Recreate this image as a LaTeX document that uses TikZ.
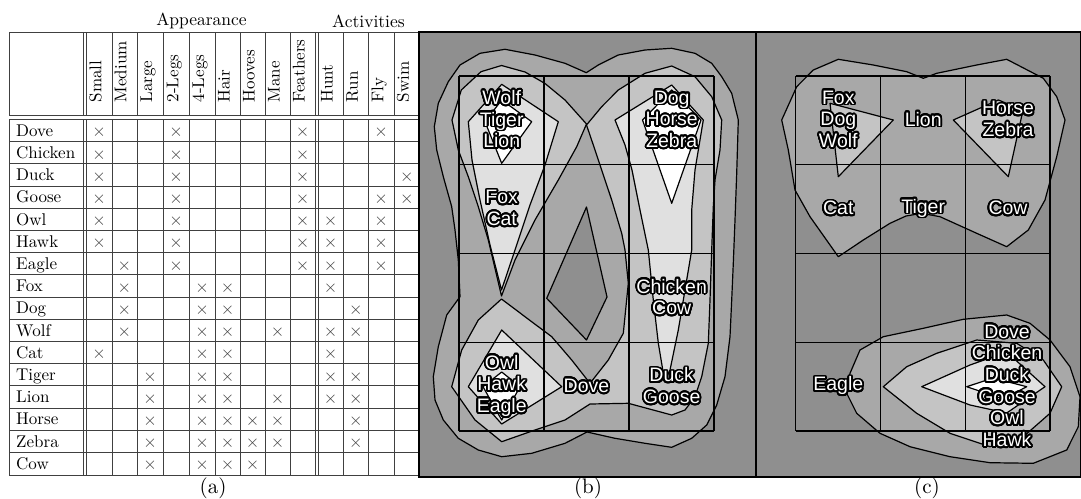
\documentclass[tikz,border=0pt]{standalone}
\usepackage{fontspec}
\usepackage{contour}
\newfontfamily\lblfont{Liberation Sans}
\newfontfamily\tabfont{lmroman10-regular}[Extension=.otf]
\contourlength{1.8pt}
\contournumber{32}
\newcommand{\cl}[1]{\contour{black}{#1}}
\definecolor{bgc}{gray}{0.56}
\definecolor{lvlone}{gray}{0.66}
\definecolor{lvltwo}{gray}{0.77}
\definecolor{lvlthree}{gray}{0.88}

\begin{document}
\begin{tikzpicture}[
    x=1pt, y=-1pt,
    tab/.style={draw=black!75, line width=0.9pt},
    cell/.style={font=\tabfont\fontsize{17}{19}\selectfont, inner sep=0pt},
    xmk/.style={font=\fontsize{16}{18}\selectfont, inner sep=0pt, text=black!75},
    frame/.style={draw=black, line width=1.4pt},
    cont/.style={draw=black, line width=1.2pt, line join=round},
    gridln/.style={draw=black, line width=1.2pt},
    lbl/.style={font=\lblfont\fontsize{19.5}{21.7}\selectfont, text=white,
      align=center, inner sep=0pt},
    sublbl/.style={font=\tabfont\fontsize{21}{23}\selectfont, inner sep=0pt}
  ]
    \useasboundingbox (0,0) rectangle (1081,498);

    % Table (a): header block and body
    \node[cell, font=\tabfont\fontsize{17.5}{19}\selectfont] (app) at (201.5,21) {Appearance};
    \node[cell, font=\tabfont\fontsize{17.5}{19}\selectfont] (act) at (368.5,21) {Activities};
    \draw[tab] (9,32) rectangle (419.5,115);
    \draw[tab] (9,119.5) rectangle (419.5,475);
    \foreach \x in {83.5,86.5,112,137,163,189,215,240,265,290,315,318,343,368,394} {
      \draw[tab] (\x,32) -- (\x,115);
      \draw[tab] (\x,119.5) -- (\x,475);
    }
    \foreach \i in {1,...,15}
      \draw[tab] (9,119.5+22.19*\i) -- (419.5,119.5+22.19*\i);

    % column heads, rotated
    \foreach \c/\txt [count=\i] in {99.2/Small, 124.3/Medium, 150/Large,
        176.2/2-Legs, 202/4-Legs, 227.5/Hair, 252.5/Hooves, 277.5/Mane,
        302.5/Feathers, 330.5/Hunt, 355.8/Run, 381.2/Fly, 406.8/Swim}
      \node[cell, rotate=90, anchor=mid west] (h\i) at (\c,102.5) {\txt};

    % rows and crosses
    \foreach \nm/\marks [count=\ri] in {Dove/{1,4,9,12}, Chicken/{1,4,9},
        Duck/{1,4,9,13}, Goose/{1,4,9,12,13}, Owl/{1,4,9,10,12},
        Hawk/{1,4,9,10,12}, Eagle/{2,4,9,10,12}, Fox/{2,5,6,10},
        Dog/{2,5,6,11}, Wolf/{2,5,6,8,10,11}, Cat/{1,5,6,10},
        Tiger/{3,5,6,10,11}, Lion/{3,5,6,8,10,11}, Horse/{3,5,6,7,8,11},
        Zebra/{3,5,6,7,8,11}, Cow/{3,5,6,7}} {
      \pgfmathsetmacro{\yc}{119.5+22.19*(\ri-0.5)}
      \node[cell, anchor=base west] (r\ri) at (16,\yc+5.8) {\nm};
      \foreach \c in \marks {
        \pgfmathsetmacro{\xc}{{99.2,124.3,150,176.2,202,227.5,252.5,277.5,302.5,330.5,355.8,381.2,406.8}[\c-1]}
        \node[xmk] (m\ri-\c) at (\xc,\yc+2) {$\times$};
      }
    }
    \node[sublbl] (capa) at (213,488) {(a)};

    % Panel (b)
    \draw[frame, fill=bgc] (419,32) rectangle (756,477);
    \draw[cont, fill=lvlone] (586.3,72.7) -- (565,63.3) -- (535,55) -- (505,49.3)
      -- (480,53.3) -- (460,65) -- (448.3,81.7) -- (438.3,103.3) -- (434.3,126.7)
      -- (436.7,150) -- (443.3,176.7) -- (451.7,206.7) -- (455,230) -- (458.3,260)
      -- (460,296.7) -- (446.7,315) -- (438.3,346.7) -- (433.3,376.7) -- (435,400)
      -- (443.3,420) -- (458.3,438.3) -- (478.3,450) -- (501.7,456.7) -- (531.7,453.3)
      -- (565,443.3) -- (587,432) -- (615,438.3) -- (645,443.3) -- (671.7,447.3)
      -- (691.7,438.3) -- (706.7,425) -- (716.7,405) -- (725,376.7) -- (730,336.7)
      -- (731.7,300) -- (733.3,263.3) -- (735,220) -- (736.7,173.3) -- (738.3,120)
      -- (731.7,93.3) -- (721.7,76.7) -- (711.7,63.3) -- (695,53.3) -- (671.7,48.3)
      -- (645,50) -- (618.3,55) -- (598.3,65) -- cycle;
    \draw[cont, fill=bgc] (586.5,207) -- (607,297) -- (586.5,340) -- (546.7,298.3) -- cycle;
    \draw[cont, fill=lvltwo] (586.5,124) -- (565,100) -- (545,83.5) -- (525,72)
      -- (501.5,65.5) -- (481,71.7) -- (461.3,90) -- (452,120) -- (458.3,150)
      -- (468.3,176.7) -- (478.3,206.7) -- (488.3,240) -- (493.5,262) -- (501.5,296)
      -- (515,260) -- (535,220) -- (558.3,180) -- (576.7,146.7) -- cycle;
    \draw[cont, fill=lvltwo] (586.5,125) -- (601.7,106.7) -- (618.3,90) -- (645,73.3)
      -- (671.7,66) -- (695,76.7) -- (711.7,96.7) -- (721.7,120) -- (720,150)
      -- (715,180) -- (713.3,206.7) -- (711.7,250) -- (710,300) -- (708.3,343.3)
      -- (701.7,376.7) -- (695,396.7) -- (685,410) -- (671.7,415) -- (628.3,403.3)
      -- (590,404) -- (565,420) -- (535,430) -- (501.7,441.7) -- (475,420)
      -- (451.7,386.7) -- (461.7,350) -- (478.3,320) -- (501.5,299) -- (525,316.7)
      -- (551.7,336.7) -- (571.7,360) -- (590,383.3) -- (608.3,360) -- (623.3,333.3)
      -- (628.3,283.3) -- (625,250) -- (621.7,233.3) -- (611.7,200) -- (595,150) -- cycle;
    \draw[cont, fill=lvlthree] (468.3,121.7) -- (501.7,84.3) -- (558.3,121.7)
      -- (545,165) -- (530,205) -- (515,250) -- (501.5,290) -- (490,245)
      -- (480,200) -- (472,160) -- cycle;
    \draw[cont, fill=white] (485,121.7) -- (501.7,100) -- (531.7,121.7) -- (501.7,163.3) -- cycle;
    \draw[cont, fill=lvlthree] (615,120) -- (671.7,85) -- (703.3,120) -- (695,170)
      -- (691.7,210) -- (691.7,250) -- (685,290) -- (678.3,330) -- (670,370)
      -- (666.7,377) -- (663.3,373) -- (658.3,343) -- (653.3,300) -- (648.3,250)
      -- (640,210) -- (632,170) -- (625,145) -- cycle;
    \draw[cont, fill=white] (642.5,120) -- (671.7,90) -- (701,120) -- (671.7,203.3) -- cycle;
    \draw[cont, fill=lvlthree] (501.7,330) -- (561.7,386.7) -- (501.7,424) -- (468.3,386.7) -- cycle;
    \draw[cont, fill=white] (501.7,372) -- (520,386.7) -- (501.7,420) -- (483,386.7) -- cycle;
    \foreach \x in {459,544,629,714}
      \draw[gridln] (\x,76) -- (\x,431);
    \foreach \y in {76,164.75,253.5,342.25,431}
      \draw[gridln] (459,\y) -- (714,\y);
    \node[lbl] (wtl) at (501.7,120) {\cl{Wolf}\\\cl{Tiger}\\\cl{Lion}};
    \node[lbl] (dhz) at (671.7,120) {\cl{Dog}\\\cl{Horse}\\\cl{Zebra}};
    \node[lbl] (fc) at (501.7,209) {\cl{Fox}\\\cl{Cat}};
    \node[lbl] (cc) at (671.7,298) {\cl{Chicken}\\\cl{Cow}};
    \node[lbl] (ohe) at (501.7,386.7) {\cl{Owl}\\\cl{Hawk}\\\cl{Eagle}};
    \node[lbl] (dv) at (586.5,386.7) {\cl{Dove}};
    \node[lbl] (dg) at (671.7,386.7) {\cl{Duck}\\\cl{Goose}};
    \node[sublbl] (capb) at (588,488) {(b)};

    % Panel (c)
    \draw[frame, fill=bgc] (756,32) rectangle (1080.5,477);
    \draw[cont, fill=lvlone] (923.3,78.3) -- (906.7,71.7) -- (873.3,65) -- (838.3,59.3)
      -- (813.3,70) -- (796.7,86.7) -- (781.7,120) -- (788.3,150) -- (795,190)
      -- (810,216.7) -- (838.3,256.7) -- (863.3,240) -- (890,223.3) -- (906,216)
      -- (921.7,213.3) -- (940,216.7) -- (976.7,233.3) -- (1006.7,246.7) -- (1028.3,230)
      -- (1045,200) -- (1056.7,156.7) -- (1065,120) -- (1056.7,96.7) -- (1043.3,78.3)
      -- (1006.7,59.3) -- (976.7,65) -- (936.7,73.3) -- cycle;
    \draw[cont, fill=lvltwo] (830,103.3) -- (893.3,120) -- (838.3,176.7) -- cycle;
    \draw[cont, fill=lvltwo] (953.3,120) -- (998.3,100) -- (1023,110) -- (1008.3,176.7) -- cycle;
    \draw[cont, fill=lvlone] (1006.7,315) -- (963.3,319.3) -- (923.3,328.3) -- (883.3,336.7)
      -- (860,350) -- (850,373.3) -- (846.7,393.3) -- (856.7,413.3) -- (880,433.3)
      -- (910,446.7) -- (950,456.7) -- (990,462.7) -- (1033.3,463.3) -- (1066.7,450)
      -- (1078.3,426.7) -- (1080,396.7) -- (1070,366.7) -- (1050,340) -- (1030,323.3) -- cycle;
    \draw[cont, fill=lvltwo] (883.3,386.7) -- (906.7,366.7) -- (936.7,353.3) -- (976.7,340)
      -- (1016.7,343.3) -- (1043.3,360) -- (1061.7,386.7) -- (1050,413.3) -- (1023.3,436.7)
      -- (990,446.7) -- (950,433.3) -- (916.7,413.3) -- cycle;
    \draw[cont, fill=lvlthree] (921.7,386.7) -- (970,365) -- (1006.7,352) -- (1045,386.7)
      -- (1006.7,413) -- (970,405) -- cycle;
    \draw[cont, fill=white] (966.7,386.7) -- (993,378) -- (1026.7,386.7) -- (1003.3,399) -- cycle;
    \foreach \x in {795.7,880.7,965.7,1050}
      \draw[gridln] (\x,76) -- (\x,431);
    \foreach \y in {76,164.75,253.5,342.25,431}
      \draw[gridln] (795.7,\y) -- (1050,\y);
    \node[lbl] (fdw) at (838.3,120) {\cl{Fox}\\\cl{Dog}\\\cl{Wolf}};
    \node[lbl] (ln) at (923.2,120) {\cl{Lion}};
    \node[lbl] (hz) at (1008,120) {\cl{Horse}\\\cl{Zebra}};
    \node[lbl] (ct) at (838.3,209) {\cl{Cat}};
    \node[lbl] (tg) at (923.2,209) {\cl{Tiger}};
    \node[lbl] (cw) at (1008,209) {\cl{Cow}};
    \node[lbl] (eg) at (838.3,386.7) {\cl{Eagle}};
    \node[lbl] (birds) at (1007,386.7)
      {\cl{Dove}\\\cl{Chicken}\\\cl{Duck}\\\cl{Goose}\\\cl{Owl}\\\cl{Hawk}};
    \node[sublbl] (capc) at (927,488) {(c)};
  \end{tikzpicture}
\end{document}
